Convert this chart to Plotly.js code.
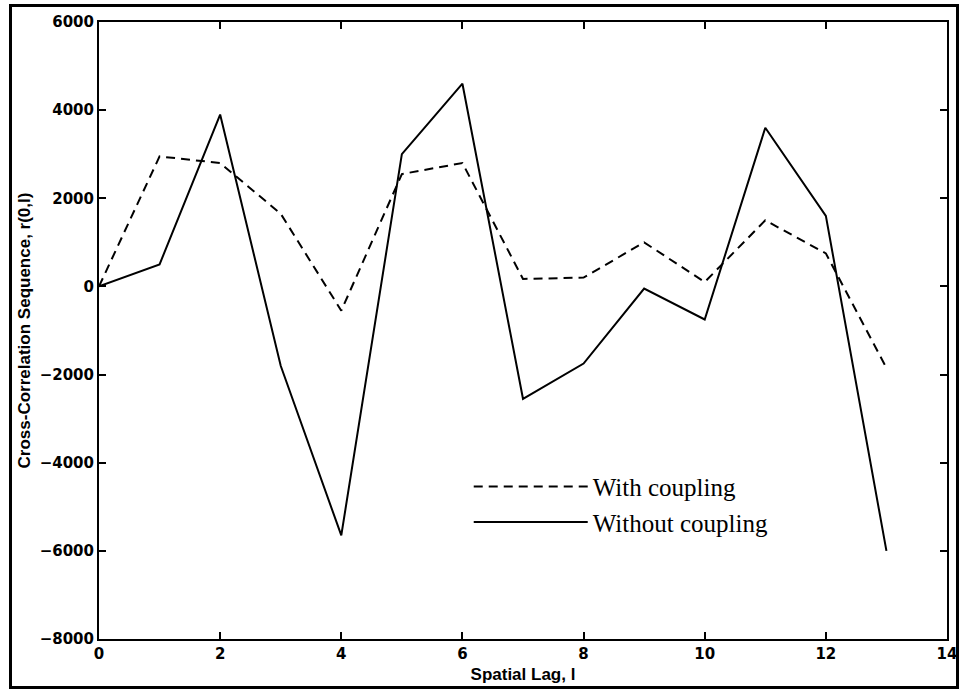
<!DOCTYPE html>
<html>
<head>
<meta charset="utf-8">
<script src="https://cdn.plot.ly/plotly-3.0.1.min.js"></script>
<style>
  body { margin: 0; background: #fff; }
  #wrap { position: relative; width: 959px; height: 690px; }
  #chart { width: 959px; height: 690px; }
  #frame { position: absolute; left: 9px; top: 4px; width: 944px; height: 679px; border: 3px solid #000; pointer-events: none; }
</style>
</head>
<body>
<div id="wrap">
  <div id="chart"></div>
  <div id="frame"></div>
</div>
<script>
const lags = [0, 1, 2, 3, 4, 5, 6, 7, 8, 9, 10, 11, 12, 13];
const withCoupling = [0, 2950, 2800, 1650, -550, 2550, 2800, 170, 200, 1000, 100, 1500, 750, -1850];
const withoutCoupling = [0, 500, 3900, -1800, -5650, 3000, 4600, -2550, -1750, -50, -750, 3600, 1600, -6000];
const seriesNames = ["With coupling", "Without coupling"];
const xTicks = [0, 2, 4, 6, 8, 10, 12, 14];
const yTicks = [-8000, -6000, -4000, -2000, 0, 2000, 4000, 6000];

const fmt = v => String(v).replace("-", "\u2212");

const traces = [
  { x: lags, y: withCoupling, name: seriesNames[0], type: "scatter", mode: "lines",
    line: { color: "#000", width: 2, dash: "9px,6px" } },
  { x: lags, y: withoutCoupling, name: seriesNames[1], type: "scatter", mode: "lines",
    line: { color: "#000", width: 2 } }
];

const axisCommon = {
  showgrid: false, zeroline: false, showline: true, linecolor: "#000", linewidth: 2,
  mirror: "ticks", ticks: "inside", ticklen: 7, tickwidth: 2, tickcolor: "#000",
  tickfont: { family: "DejaVu Sans, sans-serif", size: 15, color: "#000", weight: "bold" }
};
const titleFont = { family: "Arial, Liberation Sans, sans-serif", size: 17, color: "#000", weight: "bold" };

const layout = {
  width: 959, height: 690,
  margin: { l: 99, r: 12, t: 22, b: 51 },
  paper_bgcolor: "#fff", plot_bgcolor: "#fff",
  showlegend: true,
  legend: {
    x: 0.436, y: 0.284, xanchor: "left", yanchor: "top",
    bgcolor: "rgba(0,0,0,0)", borderwidth: 0,
    font: { family: "Liberation Serif, Times New Roman, serif", size: 25, color: "#000" },
    itemwidth: 114, tracegroupgap: 0
  },
  xaxis: Object.assign({}, axisCommon, {
    range: [0, 14], tickvals: xTicks, ticktext: xTicks.map(fmt),
    title: { text: "Spatial Lag, l", standoff: 6, font: titleFont }
  }),
  yaxis: Object.assign({}, axisCommon, {
    range: [-8000, 6000], tickvals: yTicks, ticktext: yTicks.map(fmt),
    title: { text: "Cross-Correlation Sequence, r(0,l)", standoff: 5, font: titleFont }
  })
};

Plotly.newPlot("chart", traces, layout, { displayModeBar: false, staticPlot: true });
</script>
</body>
</html>
